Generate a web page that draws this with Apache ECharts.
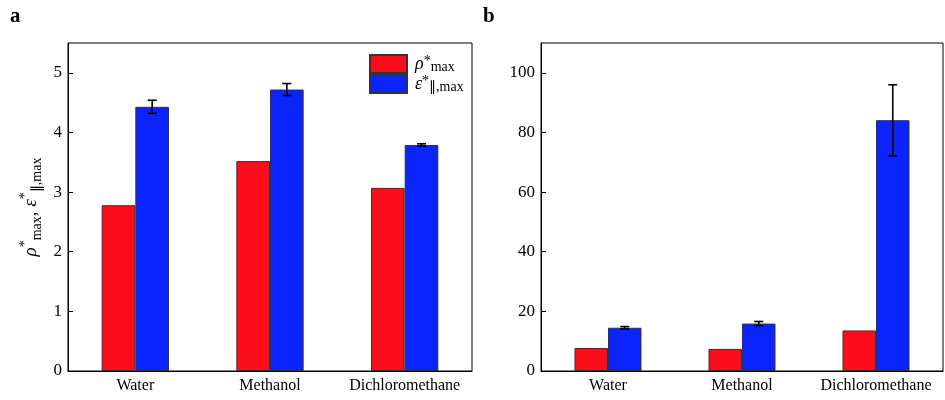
<!DOCTYPE html>
<html><head><meta charset="utf-8">
<script src="https://cdn.jsdelivr.net/npm/echarts@6/dist/echarts.min.js"></script>
<style>html,body{margin:0;padding:0;background:#fff}#c{width:945px;height:400px}</style>
</head><body><div id="c"></div>
<script>
const categories = ['Water', 'Methanol', 'Dichloromethane'];
// Panel a
const rhoA = [2.78, 3.52, 3.07];
const epsA = [4.43, 4.72, 3.79];
const epsAErr = [0.11, 0.10, 0.02];
// Panel b
const rhoB = [7.7, 7.4, 13.6];
const epsB = [14.5, 15.9, 84.1];
const epsBErr = [0.4, 0.7, 11.9];
const yTicksA = [0, 1, 2, 3, 4, 5];
const yTicksB = [0, 20, 40, 60, 80, 100];

const RED = '#FC0D1B', BLUE = '#0B24FB', FONT = 'Liberation Serif';
const chart = echarts.init(document.getElementById('c'));

function errData(vals, errs) { return vals.map((v, i) => [i, v - errs[i], v + errs[i]]); }
function errSeries(xi, yi, data) {
  return {
    type: 'custom', xAxisIndex: xi, yAxisIndex: yi, data: data, z: 10, silent: true,
    renderItem: function (params, api) {
      const cw = api.size([1, 0])[0];
      const lo = api.coord([api.value(0), api.value(1)]);
      const hi = api.coord([api.value(0), api.value(2)]);
      const x = lo[0] + cw * 0.125;
      const cap = 4.5;
      const st = { stroke: '#000', lineWidth: 1.6 };
      return { type: 'group', children: [
        { type: 'line', shape: { x1: x, y1: lo[1], x2: x, y2: hi[1] }, style: st },
        { type: 'line', shape: { x1: x - cap, y1: lo[1], x2: x + cap, y2: lo[1] }, style: st },
        { type: 'line', shape: { x1: x - cap, y1: hi[1], x2: x + cap, y2: hi[1] }, style: st }
      ]};
    }
  };
}
const barStyle = c => ({ color: c, borderColor: '#333', borderWidth: 1 });
function xAx(gi) {
  return { type: 'category', gridIndex: gi, data: categories, boundaryGap: true,
    axisLine: { lineStyle: { color: '#000', width: 1 } },
    axisTick: { inside: true, length: 4, lineStyle: { color: '#000' } },
    axisLabel: { interval: 0, color: '#000', fontFamily: FONT, fontSize: 16, margin: 7 } };
}
function yAx(gi, max, interval, ticks) {
  return { type: 'value', gridIndex: gi, min: 0, max: max, interval: interval,
    axisLine: { show: true, lineStyle: { color: '#000', width: 1 } },
    axisTick: { show: true, inside: true, length: 5, lineStyle: { color: '#000' } },
    splitLine: { show: false },
    axisLabel: { color: '#000', fontFamily: FONT, fontSize: 17, margin: 6, showMaxLabel: false,
      formatter: v => ticks.indexOf(v) >= 0 ? String(v) : '' } };
}
const richLbl = {
  i: { fontFamily: FONT, fontStyle: 'italic', fontSize: 19, color: '#000' },
  n: { fontFamily: FONT, fontSize: 19, color: '#000' },
  sup: { fontFamily: FONT, fontSize: 14, color: '#000', verticalAlign: 'top', padding: [0, 0, 9, 0] },
  sub: { fontFamily: FONT, fontSize: 14, color: '#000', verticalAlign: 'bottom', padding: [7, 0, 0, 0] }
};

const yA = yAx(0, 5.5, 1, yTicksA);
yA.name = '{i|ρ}{sup|*}{sub|max}{n|, }{i|ε}{sup|*}{sub|∥,max}';
yA.nameLocation = 'middle';
yA.nameGap = 24;
yA.nameRotate = 90;
yA.nameTextStyle = { rich: richLbl, lineHeight: 26 };

chart.setOption({
  animation: false,
  textStyle: { fontFamily: FONT },
  grid: [
    { left: 68, top: 43, width: 404, height: 328, show: true, borderColor: '#000', borderWidth: 1, backgroundColor: 'transparent' },
    { left: 541, top: 43, width: 402, height: 328, show: true, borderColor: '#000', borderWidth: 1, backgroundColor: 'transparent' }
  ],
  xAxis: [xAx(0), xAx(1)],
  yAxis: [yA, yAx(1, 110, 20, yTicksB)],
  legend: {
    data: ['rho', 'eps'], orient: 'vertical', left: 369, top: 54, padding: 0, itemWidth: 37, itemHeight: 18, itemGap: 0,
    icon: 'rect',
    formatter: n => n === 'rho' ? '{i|ρ}{sup|*}{sub|max}' : '{i|ε}{sup|*}{sub|∥,max}',
    textStyle: { padding: [0, 0, 0, 3], lineHeight: 20, rich: {
      i: { fontFamily: FONT, fontStyle: 'italic', fontSize: 18, color: '#000' },
      sup: { fontFamily: FONT, fontSize: 14, color: '#000', verticalAlign: 'top', padding: [0, 0, 8, 0] },
      sub: { fontFamily: FONT, fontSize: 14, color: '#000', verticalAlign: 'bottom', padding: [6, 0, 0, 0] }
    } }
  },
  graphic: [
    { type: 'text', left: 10, top: 6, style: { text: 'a', font: 'bold 21px "Liberation Serif"', fill: '#000' } },
    { type: 'text', left: 483, top: 6, style: { text: 'b', font: 'bold 21px "Liberation Serif"', fill: '#000' } }
  ],
  series: [
    { name: 'rho', type: 'bar', xAxisIndex: 0, yAxisIndex: 0, data: rhoA, barWidth: '25%', barGap: '0%', itemStyle: barStyle(RED) },
    { name: 'eps', type: 'bar', xAxisIndex: 0, yAxisIndex: 0, data: epsA, barWidth: '25%', barGap: '0%', itemStyle: barStyle(BLUE) },
    errSeries(0, 0, errData(epsA, epsAErr)),
    { name: 'rho', type: 'bar', xAxisIndex: 1, yAxisIndex: 1, data: rhoB, barWidth: '25%', barGap: '0%', itemStyle: barStyle(RED) },
    { name: 'eps', type: 'bar', xAxisIndex: 1, yAxisIndex: 1, data: epsB, barWidth: '25%', barGap: '0%', itemStyle: barStyle(BLUE) },
    errSeries(1, 1, errData(epsB, epsBErr))
  ]
});
</script></body></html>
